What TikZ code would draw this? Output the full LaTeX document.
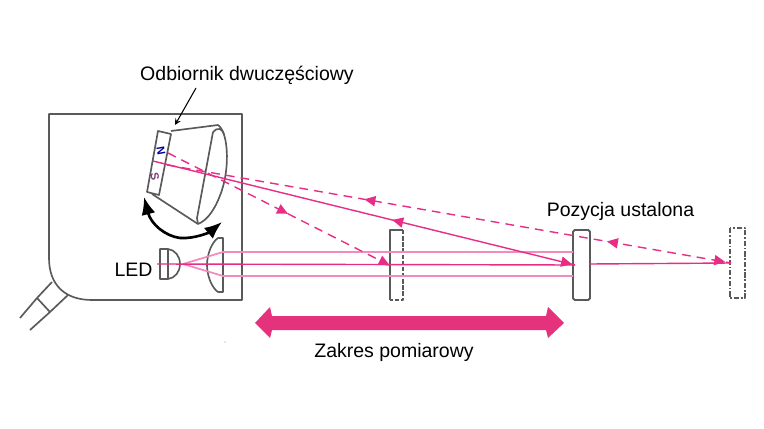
\documentclass[tikz,border=0pt]{standalone}
\usepackage{fontspec}
\setmainfont{Liberation Sans}
\usepackage{xcolor}
\usetikzlibrary{decorations.markings,arrows.meta}
\definecolor{raypink}{RGB}{232,45,135}
\definecolor{raylight}{RGB}{243,140,190}
\definecolor{bandpink}{RGB}{228,50,125}
\definecolor{bodygray}{RGB}{90,90,90}
\tikzset{
  body/.style={draw=bodygray, line width=0.95pt, line join=round},
  ray/.style={draw=raypink, line width=0.8pt},
  beam/.style={draw=raylight, line width=1pt},
  rayd/.style={ray, dash pattern=on 5pt off 3.5pt},
  tipat/.style={postaction={decorate, decoration={markings, mark=at position #1 with {\fill[raypink] (3.2pt,0) -- (-3pt,3pt) -- (-3pt,-3pt) -- cycle;}}}},
  tiprev/.style={postaction={decorate, decoration={markings, mark=at position #1 with {\fill[raypink] (-3.2pt,0) -- (3pt,3pt) -- (3pt,-3pt) -- cycle;}}}},
  label/.style={font=\fontsize{11.1}{13}\selectfont, inner sep=0pt},
}
\begin{document}
\begin{tikzpicture}[x=0.02cm, y=-0.02cm]
\useasboundingbox (0,0) rectangle (764,429);

\coordinate (sensorhit) at (153,161);
\coordinate (sensorup) at (168,153);
\coordinate (sensormid) at (167,165);
\coordinate (ledin) at (157,264);
\coordinate (ledout) at (183,264);
\coordinate (lensup) at (223,252);
\coordinate (lensdown) at (223,276);
\coordinate (midup) at (573,252);
\coordinate (middown) at (573,276);
\coordinate (midback) at (590,264);
\coordinate (nearhit) at (389,265);
\coordinate (midhit) at (575,265);
\coordinate (farhit) at (731,263);
\coordinate (sensortop) at (175,125);
\coordinate (leadstart) at (196,88);
\coordinate (swingmid) at (180,238);
\coordinate (swingleft) at (144,197);
\coordinate (swingright) at (222,222);

% housing
\draw[body] (49,114) -- (242,114) -- (242,300) -- (92,300) .. controls (65,300) and (49,285) .. (49,258) -- cycle;
\draw[body] (52,282) -- (37,298) -- (50,312) -- (68,295);
\draw[body] (37,298) -- (20,318);
\draw[body] (50,312) -- (30,330);

% receiver
\draw[body] (171,131) -- (218,125) .. controls (228,132) and (230,165) .. (222,190) .. controls (216,208) and (208,220) .. (198,224) -- (152,194);
\draw[body] (213,132) .. controls (217,127) and (223,128) .. (224,135);
\draw[body] (213,132) -- (197,218) -- (198,224);
\draw[body, fill=white] (158,131) -- (171,134) -- (159,195) -- (147,192) -- cycle;
\node[text=blue!60!black, font=\fontsize{6.5}{6.5}\selectfont\bfseries, rotate=-80] (partn) at (161,151) {N};
\node[text=blue!50!orange, font=\fontsize{6.5}{6.5}\selectfont\bfseries, rotate=-80] (parts) at (155,177) {S};

% LED and lens
\draw[body] (160,249) -- (168,249) .. controls (175,250) and (180,256) .. (180,264) .. controls (180,272) and (175,278) .. (168,279) -- (160,279) -- cycle;
\draw[body] (168,249) -- (168,279);
\draw[body] (223,238) -- (223,292) -- (218,292) .. controls (212,288) and (207,276) .. (207,265) .. controls (207,254) and (212,242) .. (218,238) -- cycle;

% targets
\draw[body, dash pattern=on 2.5pt off 1pt] (403,230) -- (403,300) -- (390,300);
\draw[body] (390,300) -- (390,230) -- (403,230);
\draw[body, line width=1.1pt, rounded corners=1pt] (573,230) rectangle (590,300);
\draw[body, dash pattern=on 3pt off 1pt on 1pt off 1pt] (730,228) rectangle (745,298);

% rays
\draw[beam] (ledout) -- (lensup) -- (midup);
\draw[beam] (ledout) -- (lensdown) -- (middown);
\draw[ray] (ledin) -- (midhit);
\draw[ray] (midback) -- (farhit);
\draw[ray, tipat=0.98, tiprev=0.58] (sensorhit) -- (midhit);
\draw[rayd, tipat=0.98, tiprev=0.36, tiprev=0.79] (sensormid) -- (farhit);
\draw[rayd, tipat=0.52, tipat=0.98] (sensorup) -- (nearhit);

% arrows
\draw[black, line width=1.5pt, -{Latex[length=10pt,width=8pt]}] (swingmid) .. controls (165,236) and (151,224) .. (swingleft);
\draw[black, line width=1.5pt, -{Latex[length=10pt,width=8pt]}] (swingmid) .. controls (195,239) and (210,232) .. (swingright);
\fill[bandpink] (255,323) -- (270,307) -- (272,316) -- (546,316) -- (548,307) -- (564,323) -- (548,338) -- (546,330) -- (272,330) -- (270,338) -- cycle;
\fill[cyan!40] (225,342) circle (0.5pt);

% labels
\node[label] (receiver) at (247,75) {Odbiornik dwuczęściowy};
\node[label] (ledlabel) at (133.5,270) {LED};
\node[label] (fixedpos) at (620.5,211.5) {Pozycja ustalona};
\node[label] (rangelabel) at (394,352) {Zakres pomiarowy};
\draw[black, line width=0.6pt, -stealth] (leadstart) -- (sensortop);
\end{tikzpicture}
\end{document}
